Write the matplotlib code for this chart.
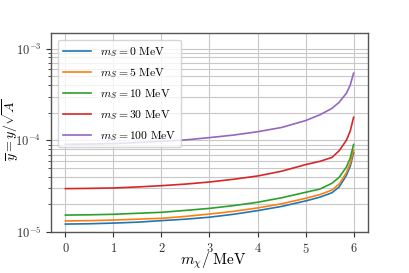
import matplotlib
matplotlib.use("Agg")
import matplotlib.pyplot as plt
import numpy as np

plt.rcParams['font.family'] = 'serif'
plt.rcParams['font.serif'] = ['cmr10']
plt.rcParams['mathtext.fontset'] = 'cm'
plt.rcParams['axes.formatter.use_mathtext'] = True
plt.rcParams['axes.unicode_minus'] = False

m_chi = [0, 0.5, 1, 1.5, 2, 2.5, 3, 3.5, 4, 4.5, 5, 5.3, 5.55, 5.7, 5.85, 5.93, 6.0]

y_mS0 = [1.22, 1.23, 1.25, 1.28, 1.33, 1.38, 1.45, 1.56, 1.71, 1.90, 2.18, 2.40, 2.68, 3.1, 4.15, 5.2, 7.3]
y_mS5 = [1.32, 1.33, 1.35, 1.38, 1.41, 1.48, 1.57, 1.68, 1.83, 2.03, 2.33, 2.56, 2.87, 3.33, 4.45, 5.6, 7.8]
y_mS10 = [1.53, 1.54, 1.56, 1.60, 1.64, 1.72, 1.81, 1.94, 2.11, 2.36, 2.71, 2.94, 3.4, 3.95, 5.1, 6.4, 9.0]
y_mS30 = [2.97, 2.99, 3.02, 3.10, 3.20, 3.33, 3.51, 3.76, 4.08, 4.60, 5.43, 5.9, 6.5, 7.7, 10.0, 12.6, 17.8]
y_mS100 = [9.04, 9.1, 9.2, 9.45, 9.75, 10.1, 10.7, 11.4, 12.4, 13.8, 16.4, 19.0, 22.3, 26.0, 32.6, 40, 54]

series = [y_mS0, y_mS5, y_mS10, y_mS30, y_mS100]
labels = [r'$m_S\mathrm{=0\ MeV}$', r'$m_S\mathrm{=5\ MeV}$', r'$m_S\mathrm{=10\ MeV}$',
          r'$m_S\mathrm{=30\ MeV}$', r'$m_S\mathrm{=100\ MeV}$']
colors = ['#1f77b4', '#ff7f0e', '#2ca02c', '#d62728', '#9467bd']

fig = plt.figure(figsize=(4.09, 2.73), dpi=100)
ax = fig.add_axes([51/409, 1 - 232/273, (368-51)/409, (232-33)/273])

for ys, lab, c in zip(series, labels, colors):
    ax.plot(m_chi, np.array(ys) * 1e-5, color=c, label=lab, lw=1.2)

ax.set_yscale('log')
ax.set_ylim(1e-5, 1.48e-3)
ax.set_xlim(-0.3, 6.3)
ax.set_xticks([0, 1, 2, 3, 4, 5, 6])
ax.grid(True, which='major', color='#c8c8c8', lw=0.8)
ax.grid(True, which='minor', axis='y', color='#c8c8c8', lw=0.8)
ax.set_axisbelow(True)
for s in ax.spines.values():
    s.set_color('#555555')
    s.set_linewidth(1.0)
ax.tick_params(labelsize=9, colors='#333333', which='both')
ax.tick_params(which='minor', labelleft=False)
ax.set_xlabel(r'$m_\chi/\;\mathrm{MeV}$', fontsize=11)
ax.set_ylabel(r'$\overline{y} = y/\sqrt{A}$', fontsize=10)
ax.xaxis.label.set_va('center')
ax.yaxis.label.set_va('center')
ax.xaxis.set_label_coords((213 - 51) / 317, (232 - 261) / 199)
ax.yaxis.set_label_coords((11 - 51) / 317, (232 - 130) / 199)
ax.legend(loc='upper left', fontsize=8.4, framealpha=0.8, handlelength=2.4,
          borderaxespad=0.6, labelspacing=0.6)

fig.savefig('out.png', dpi=100)
